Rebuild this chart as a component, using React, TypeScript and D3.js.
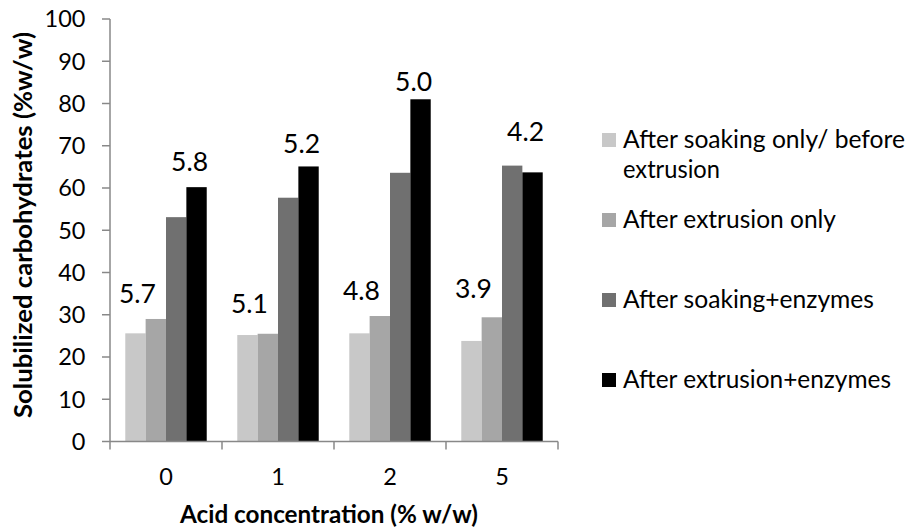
import React from "react";
import * as d3 from "d3";

// Acid concentration levels (% w/w)
const categories = ["0", "1", "2", "5"];

const seriesNames = [
  "After soaking only/ before extrusion",
  "After extrusion only",
  "After soaking+enzymes",
  "After extrusion+enzymes",
];
const legendLines = [
  ["After soaking only/ before", "extrusion"],
  ["After extrusion only"],
  ["After soaking+enzymes"],
  ["After extrusion+enzymes"],
];
// rendered widths of the legend lines, so the legend keeps its column width
const legendLineWidths = [[282, 97], [213], [251], [268]];
const seriesColors = ["#c8c8c8", "#a6a6a6", "#707070", "#000000"];

// Solubilized carbohydrates (% w/w)
const soakingOnly = [25.6, 25.2, 25.6, 23.8];
const extrusionOnly = [29.0, 25.5, 29.7, 29.4];
const soakingEnzymes = [53.1, 57.7, 63.6, 65.3];
const extrusionEnzymes = [60.2, 65.1, 81.0, 63.7];

const yTicks = [0, 10, 20, 30, 40, 50, 60, 70, 80, 90, 100];

// Annotations above the bar groups, with their heights in axis units
const lowerNotes = ["5.7", "5.1", "4.8", "3.9"];
const lowerNoteAt = [32.8, 30.4, 33.5, 33.9];
const upperNotes = ["5.8", "5.2", "5.0", "4.2"];
const upperNoteAt = [64.1, 68.4, 83.0, 71.2];

const W = 909;
const H = 532;
const plot = { left: 110, right: 558, top: 19, bottom: 441.5 };
const axisColor = "#888888";
const font = "Lato, 'Open Sans', sans-serif";

export default function App() {
  const values = [soakingOnly, extrusionOnly, soakingEnzymes, extrusionEnzymes];

  const x0 = d3
    .scaleBand<string>()
    .domain(categories)
    .range([plot.left, plot.right])
    .paddingInner(0)
    .paddingOuter(0);
  const x1 = d3
    .scaleBand<number>()
    .domain(d3.range(seriesNames.length))
    .range([0, x0.bandwidth()])
    .paddingInner(0)
    .paddingOuter(0.75);
  const y = d3.scaleLinear().domain([0, 100]).range([plot.bottom, plot.top]);

  const bw = x0.bandwidth();

  return (
    <svg
      width={W}
      height={H}
      style={{ position: "fixed", left: 0, top: 0, background: "#fff" }}
      fontFamily={font}
    >
      <rect width={W} height={H} fill="#fff" />

      {/* bars */}
      {categories.map((c, ci) => (
        <g key={c} transform={`translate(${x0(c)},0)`}>
          {values.map((vals, si) => (
            <rect
              key={si}
              x={x1(si)}
              y={y(vals[ci])}
              width={x1.bandwidth()}
              height={y(0) - y(vals[ci])}
              fill={seriesColors[si]}
            />
          ))}
        </g>
      ))}

      {/* y axis */}
      <line x1={plot.left} x2={plot.left} y1={y(100)} y2={y(0)} stroke={axisColor} strokeWidth={1.5} />
      {yTicks.map((t) => (
        <g key={t}>
          <line x1={plot.left - 8} x2={plot.left} y1={y(t)} y2={y(t)} stroke={axisColor} strokeWidth={1.5} />
          <text x={85.5} y={y(t)} dy="0.36em" textAnchor="end" fontSize={23.5} fill="#000">
            {t}
          </text>
        </g>
      ))}

      {/* x axis */}
      <line x1={plot.left} x2={plot.right} y1={y(0)} y2={y(0)} stroke={axisColor} strokeWidth={1.5} />
      {[...categories.map((c) => x0(c)!), plot.right].map((px, i) => (
        <line key={i} x1={px} x2={px} y1={y(0)} y2={y(0) + 8} stroke={axisColor} strokeWidth={1.5} />
      ))}
      {categories.map((c) => (
        <text key={c} x={x0(c)! + bw / 2} y={485} textAnchor="middle" fontSize={23.5} fill="#000">
          {c}
        </text>
      ))}

      {/* annotations */}
      {categories.map((c, ci) => (
        <g key={c}>
          <text x={x0(c)! + bw * 0.245} y={y(lowerNoteAt[ci])} textAnchor="middle" fontSize={26.5} fill="#000">
            {lowerNotes[ci]}
          </text>
          <text x={x0(c)! + bw * 0.71} y={y(upperNoteAt[ci])} textAnchor="middle" fontSize={26.5} fill="#000">
            {upperNotes[ci]}
          </text>
        </g>
      ))}

      {/* axis titles */}
      <text
        x={329}
        y={523}
        textAnchor="middle"
        fontSize={25}
        fontWeight="bold"
        fill="#000"
        textLength={298}
        lengthAdjust="spacingAndGlyphs"
      >
        Acid concentration (% w/w)
      </text>
      <text
        transform={`translate(32,225) rotate(-90)`}
        textAnchor="middle"
        fontSize={25}
        fontWeight="bold"
        fill="#000"
        textLength={386}
        lengthAdjust="spacingAndGlyphs"
      >
        Solubilized carbohydrates (%w/w)
      </text>

      {/* legend */}
      {legendLines.map((lines, i) => {
        const base = 148 + i * 80;
        return (
          <g key={i}>
            <rect x={602} y={base - 15} width={14} height={14} fill={seriesColors[i]} />
            {lines.map((ln, li) => (
              <text
                key={li}
                x={623}
                y={base + li * 30}
                fontSize={25}
                fill="#000"
                textLength={legendLineWidths[i][li]}
                lengthAdjust="spacingAndGlyphs"
              >
                {ln}
              </text>
            ))}
          </g>
        );
      })}
    </svg>
  );
}
